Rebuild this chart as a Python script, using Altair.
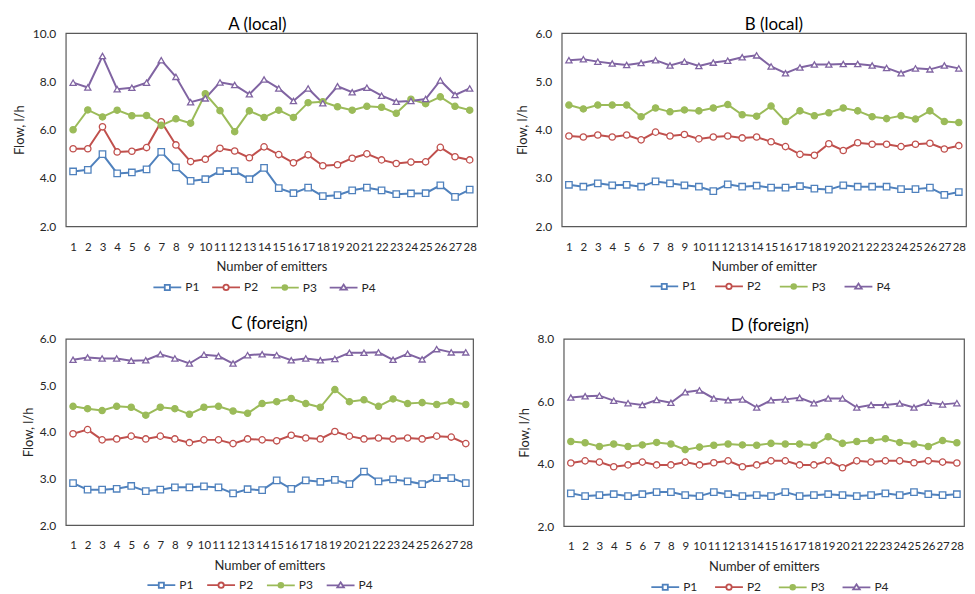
import altair as alt
import pandas as pd

emitters = list(range(1, 29))
series = ["P1", "P2", "P3", "P4"]
line_colors = ["#4F81BD", "#C0504D", "#9BBB59", "#8064A2"]
marker_fills = ["white", "white", "#9BBB59", "white"]
marker_shapes = ["square", "circle", "circle", "triangle-up"]
marker_sizes = [42, 38, 34, 62]

# legend symbols (unit = 6 px): a short line with the marker in the middle
legend_shapes = [
    "M-2.33,0H-0.43M0.43,0H2.33M-0.43,-0.43H0.43V0.43H-0.43Z",
    "M-2.33,0H-0.45M0.45,0H2.33M-0.45,0A0.45,0.45,0,1,1,0.45,0A0.45,0.45,0,1,1,-0.45,0Z",
    "M-2.33,0H2.33M-0.4,0A0.4,0.4,0,1,1,0.4,0A0.4,0.4,0,1,1,-0.4,0Z"
    "M-0.2,0A0.2,0.2,0,1,1,0.2,0A0.2,0.2,0,1,1,-0.2,0Z"
    "M-0.05,0A0.05,0.05,0,1,1,0.05,0A0.05,0.05,0,1,1,-0.05,0Z",
    "M-2.33,0H-0.3M0.3,0H2.33M0,-0.5L0.55,0.36H-0.55Z",
]

A_P1 = [4.27, 4.34, 4.99, 4.19, 4.23, 4.36, 5.08, 4.44, 3.88, 3.95, 4.29, 4.29, 3.95, 4.42,
        3.58, 3.37, 3.60, 3.25, 3.29, 3.49, 3.60, 3.49, 3.33, 3.36, 3.37, 3.70, 3.22, 3.52]
A_P2 = [5.21, 5.21, 6.12, 5.08, 5.11, 5.26, 6.33, 5.37, 4.68, 4.78, 5.23, 5.12, 4.84, 5.29,
        4.97, 4.63, 4.96, 4.51, 4.55, 4.82, 5.00, 4.75, 4.60, 4.66, 4.67, 5.27, 4.88, 4.75]
A_P3 = [6.00, 6.82, 6.53, 6.81, 6.58, 6.59, 6.18, 6.45, 6.27, 7.49, 6.79, 5.92, 6.78, 6.51,
        6.81, 6.51, 7.12, 7.16, 6.95, 6.81, 6.97, 6.93, 6.68, 7.26, 7.08, 7.36, 6.97, 6.81]
A_P4 = [7.95, 7.75, 9.05, 7.68, 7.74, 7.95, 8.88, 8.19, 7.14, 7.30, 7.96, 7.85, 7.47, 8.08,
        7.71, 7.19, 7.71, 7.10, 7.80, 7.55, 7.74, 7.41, 7.16, 7.19, 7.27, 8.04, 7.44, 7.71]

B_P1 = [2.86, 2.82, 2.89, 2.85, 2.86, 2.82, 2.93, 2.89, 2.85, 2.82, 2.73, 2.87, 2.82, 2.84,
        2.80, 2.80, 2.83, 2.78, 2.76, 2.85, 2.82, 2.82, 2.82, 2.77, 2.77, 2.80, 2.65, 2.71]
B_P2 = [3.87, 3.85, 3.89, 3.85, 3.89, 3.79, 3.95, 3.87, 3.90, 3.81, 3.85, 3.87, 3.83, 3.85,
        3.75, 3.65, 3.49, 3.47, 3.71, 3.57, 3.73, 3.70, 3.70, 3.65, 3.70, 3.72, 3.60, 3.67]
B_P3 = [4.51, 4.43, 4.51, 4.51, 4.51, 4.27, 4.45, 4.37, 4.41, 4.39, 4.45, 4.52, 4.31, 4.28,
        4.49, 4.17, 4.39, 4.29, 4.35, 4.45, 4.39, 4.27, 4.23, 4.29, 4.22, 4.39, 4.17, 4.15]
B_P4 = [5.44, 5.46, 5.41, 5.37, 5.34, 5.38, 5.44, 5.33, 5.41, 5.32, 5.39, 5.43, 5.50, 5.54,
        5.31, 5.17, 5.29, 5.35, 5.35, 5.36, 5.36, 5.33, 5.28, 5.17, 5.27, 5.25, 5.33, 5.27]

C_P1 = [2.90, 2.76, 2.76, 2.78, 2.84, 2.73, 2.76, 2.81, 2.81, 2.83, 2.81, 2.68, 2.77, 2.75,
        2.96, 2.78, 2.96, 2.93, 2.97, 2.88, 3.15, 2.94, 2.98, 2.94, 2.88, 3.01, 3.01, 2.90]
C_P2 = [3.96, 4.05, 3.83, 3.85, 3.91, 3.85, 3.91, 3.85, 3.77, 3.83, 3.83, 3.75, 3.85, 3.83,
        3.81, 3.93, 3.87, 3.85, 4.01, 3.91, 3.85, 3.87, 3.85, 3.87, 3.85, 3.91, 3.89, 3.75]
C_P3 = [4.55, 4.50, 4.46, 4.55, 4.53, 4.36, 4.53, 4.50, 4.38, 4.53, 4.55, 4.45, 4.40, 4.61,
        4.65, 4.72, 4.61, 4.53, 4.91, 4.65, 4.69, 4.55, 4.71, 4.61, 4.63, 4.59, 4.65, 4.59]
C_P4 = [5.55, 5.60, 5.58, 5.58, 5.53, 5.54, 5.67, 5.58, 5.47, 5.66, 5.63, 5.47, 5.65, 5.67,
        5.65, 5.54, 5.58, 5.54, 5.57, 5.70, 5.70, 5.71, 5.55, 5.68, 5.56, 5.78, 5.71, 5.71]

D_P1 = [3.05, 2.96, 2.99, 3.02, 2.96, 3.02, 3.09, 3.09, 2.99, 2.96, 3.09, 3.02, 2.96, 2.99,
        2.96, 3.09, 2.96, 2.99, 3.02, 2.99, 2.96, 2.99, 3.05, 2.99, 3.09, 3.02, 2.99, 3.02]
D_P2 = [4.02, 4.09, 4.05, 3.90, 3.96, 4.05, 3.96, 3.96, 4.05, 3.96, 4.03, 4.09, 3.90, 3.96,
        4.09, 4.09, 3.96, 3.96, 4.09, 3.87, 4.09, 4.05, 4.09, 4.09, 4.03, 4.09, 4.05, 4.02]
D_P3 = [4.71, 4.67, 4.55, 4.63, 4.55, 4.60, 4.68, 4.63, 4.45, 4.53, 4.59, 4.63, 4.60, 4.59,
        4.65, 4.63, 4.63, 4.59, 4.86, 4.65, 4.71, 4.74, 4.80, 4.68, 4.63, 4.55, 4.74, 4.67]
D_P4 = [6.12, 6.16, 6.18, 6.02, 5.94, 5.88, 6.04, 5.95, 6.29, 6.35, 6.09, 6.03, 6.06, 5.80,
        6.03, 6.06, 6.11, 5.94, 6.09, 6.09, 5.80, 5.88, 5.88, 5.93, 5.80, 5.95, 5.90, 5.94]

FONT = "Lato"
TEXT = "#262626"


def long_table(p1, p2, p3, p4):
    rows = []
    for name, vals in zip(series, [p1, p2, p3, p4]):
        for e, v in zip(emitters, vals):
            rows.append({"emitter": e, "series": name, "flow": v})
    return pd.DataFrame(rows)


def panel(title, title_dx, title_dy, title_offset, data, ymin, ymax, ystep, xtitle,
          width, height, label_extent, ytitle_pad, legend_x, legend_y, col_pad):
    df = long_table(*data)
    yvals = [ymin + i * ystep for i in range(int(round((ymax - ymin) / ystep)) + 1)]
    x = alt.X("emitter:O",
              scale=alt.Scale(type="point", padding=0.5),
              axis=alt.Axis(title=xtitle, labelAngle=0, ticks=False, domain=False,
                            labelFontSize=11.5, labelPadding=15, titlePadding=8, grid=False))
    y = alt.Y("flow:Q",
              scale=alt.Scale(domain=[ymin, ymax], nice=False, zero=False),
              axis=alt.Axis(title="Flow, l/h", values=yvals, format=".1f", ticks=False,
                            domain=False, grid=False, labelPadding=10,
                            minExtent=label_extent, maxExtent=label_extent,
                            titlePadding=ytitle_pad))
    stroke_scale = alt.Scale(domain=series, range=line_colors)
    fill_scale = alt.Scale(domain=series, range=marker_fills)
    leg = alt.Legend(title=None, orient="none", legendX=legend_x, legendY=legend_y,
                     direction="horizontal", columns=4, columnPadding=col_pad,
                     symbolSize=144, symbolStrokeWidth=1.8, labelOffset=11,
                     labelFontSize=12, labelFont=FONT, labelColor=TEXT)
    base = alt.Chart(df)
    lines = base.mark_line(strokeWidth=2).encode(
        x=x, y=y,
        stroke=alt.Stroke("series:N", scale=stroke_scale, legend=None),
        detail="series:N",
    )
    points = base.mark_point(filled=False, strokeWidth=1.3, opacity=1).encode(
        x=x, y=y,
        stroke=alt.Stroke("series:N", scale=stroke_scale, legend=None),
        fill=alt.Fill("series:N", scale=fill_scale, legend=None),
        shape=alt.Shape("series:N", scale=alt.Scale(domain=series, range=marker_shapes), legend=None),
        size=alt.Size("series:N", scale=alt.Scale(domain=series, range=marker_sizes), legend=None),
    )
    legend_layer = base.mark_point(filled=False, opacity=0).encode(
        x=x, y=y,
        stroke=alt.Stroke("series:N", scale=stroke_scale, legend=leg),
        shape=alt.Shape("series:N", scale=alt.Scale(domain=series, range=legend_shapes), legend=leg),
    )
    return alt.layer(lines, points, legend_layer).resolve_scale(
        stroke="independent", fill="independent", shape="independent", size="independent"
    ).properties(
        width=width, height=height,
        title=alt.TitleParams(title, fontSize=17, font=FONT, fontWeight="normal",
                              color="black", dx=title_dx, dy=title_dy,
                              offset=title_offset, anchor="middle"),
    )


pA = panel("A (local)", -14, 1, -6, (A_P1, A_P2, A_P3, A_P4), 2, 10, 2, "Number of emitters",
           413, 194, 33, 6, 95, 248, 8)
pB = panel("B (local)", 10, 1, -6, (B_P1, B_P2, B_P3, B_P4), 2, 6, 1, "Number of emitter",
           406, 194, 26, 6, 96, 247, 14)
pC = panel("C (foreign)", 0, 0, 0, (C_P1, C_P2, C_P3, C_P4), 2, 6, 1, "Number of emitters",
           409, 187, 27, 3, 89, 240, 9)
pD = panel("D (foreign)", 6, 0, -2, (D_P1, D_P2, D_P3, D_P4), 2, 8, 2, "Number of emitters",
           402, 188, 27, 5, 95, 242, 13)

row1 = alt.hconcat(pA, pB, spacing=38)
row2 = alt.hconcat(pC, pD, spacing=44)
chart = alt.vconcat(row1, row2, spacing=19).properties(
    padding={"left": 5, "top": 6, "right": 0, "bottom": 0}
).configure(
    background="white"
).configure_view(
    stroke="#595959", strokeWidth=1.2
).configure_axis(
    labelFont=FONT, labelFontSize=12, labelColor=TEXT,
    titleFont=FONT, titleFontSize=13, titleColor=TEXT, titleFontWeight="normal",
)

chart.save("out.html", embed_options={"renderer": "svg", "actions": False})
